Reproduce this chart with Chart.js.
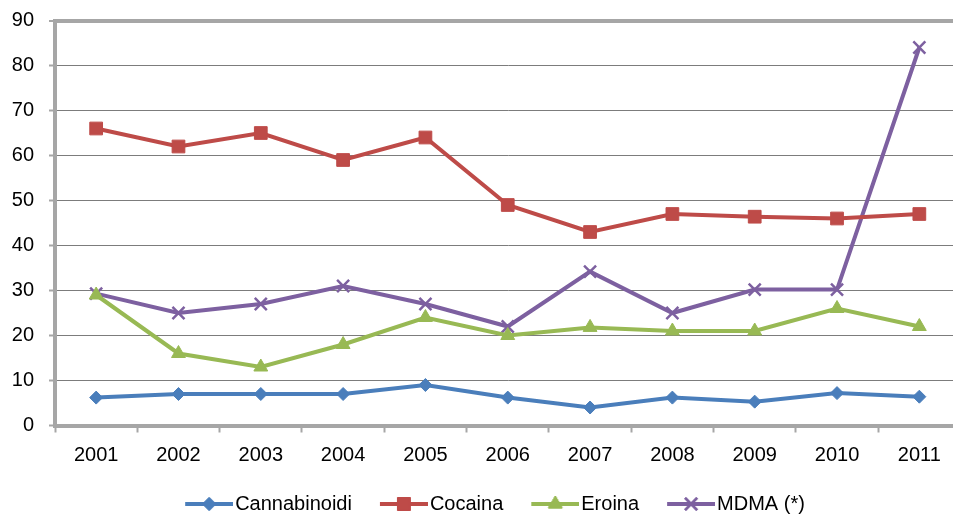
<!DOCTYPE html>
<html>
<head>
<meta charset="utf-8">
<script src="https://cdn.jsdelivr.net/npm/chart.js@4/dist/chart.umd.min.js"></script>
<style>
  html, body { margin: 0; padding: 0; background: #fff; overflow: hidden; }
  #wrap { width: 953px; height: 518px; overflow: hidden; position: relative; }
  canvas { display: block; }
</style>
</head>
<body>
<div id="wrap"><canvas id="c" width="990" height="524" style="width:990px;height:524px"></canvas></div>
<script>
// Years on the category axis
const years = ['2001', '2002', '2003', '2004', '2005', '2006', '2007', '2008', '2009', '2010', '2011'];

// Series values
const cannabinoidi = [6.2, 7.0, 7.0, 7.0, 9.0, 6.2, 4.0, 6.2, 5.3, 7.2, 6.4];
const cocaina      = [66, 62, 65, 59, 64, 49, 43, 47, 46.4, 46, 47];
const eroina       = [29, 16, 13, 18, 24, 20, 21.8, 21, 21, 26, 22];
const mdma         = [29.3, 25, 27, 31, 27, 22, 34.2, 25, 30.2, 30.2, 84];

// Y axis ticks
const yTicks = [0, 10, 20, 30, 40, 50, 60, 70, 80, 90];

const FONT = '"Liberation Sans", Arial, sans-serif';

const series = [
  { label: 'Cannabinoidi', data: cannabinoidi, color: '#4a7ebb', pointStyle: 'rectRot', radius: 6.5, pw: 1 },
  { label: 'Cocaina',      data: cocaina,      color: '#be4b48', pointStyle: 'rect',    radius: 9,   pw: 1 },
  { label: 'Eroina',       data: eroina,       color: '#98b954', pointStyle: 'triangle',radius: 8,   pw: 1 },
  { label: 'MDMA (*)',     data: mdma,         color: '#7d60a0', pointStyle: 'crossRot',radius: 8.5, pw: 2.5 }
];

// Legend swatch: a short line with the series marker in its middle
function legendSwatch(s) {
  const c = document.createElement('canvas');
  c.width = 76; c.height = 20;
  const g = c.getContext('2d');
  g.strokeStyle = s.color;
  g.lineWidth = 4;
  g.beginPath(); g.moveTo(28, 10); g.lineTo(76, 10); g.stroke();
  g.fillStyle = s.color;
  g.strokeStyle = s.color;
  g.lineWidth = s.pw;
  Chart.helpers.drawPoint(g, { pointStyle: s.pointStyle, radius: s.radius, rotation: 0, borderWidth: s.pw }, 52, 10);
  if (s.pointStyle !== 'crossRot') g.fill();
  g.stroke();
  return c;
}
const swatches = series.map(legendSwatch);

new Chart(document.getElementById('c'), {
  type: 'line',
  data: {
    labels: years,
    datasets: series.map(s => ({
      label: s.label,
      data: s.data,
      borderColor: s.color,
      backgroundColor: s.color,
      borderWidth: 4,
      tension: 0,
      pointStyle: s.pointStyle,
      pointRadius: s.radius,
      pointHoverRadius: s.radius,
      pointBorderWidth: s.pw,
      pointBackgroundColor: s.color,
      pointBorderColor: s.color,
      yAxisID: 'y'
    }))
  },
  options: {
    responsive: false,
    animation: false,
    devicePixelRatio: 1,
    layout: { padding: { top: 20.5, left: 0, right: 20, bottom: 0 } },
    plugins: {
      tooltip: { enabled: false },
      legend: {
        position: 'bottom',
        labels: {
          usePointStyle: true,
          pointStyleWidth: 60,
          padding: 8,
          color: '#000',
          font: { family: FONT, size: 20 },
          generateLabels(chart) {
            const items = Chart.defaults.plugins.legend.labels.generateLabels(chart);
            items.forEach((it, i) => { it.pointStyle = swatches[i]; });
            return items;
          }
        }
      }
    },
    scales: {
      x: {
        type: 'category',
        offset: true,
        grid: {
          offset: true,
          drawOnChartArea: false,
          drawTicks: true,
          tickLength: 7,
          tickWidth: 2,
          tickColor: '#a6a6a6'
        },
        border: { display: true, color: '#a6a6a6', width: 4 },
        ticks: {
          color: '#000',
          padding: 11,
          maxRotation: 0,
          autoSkip: false,
          font: { family: FONT, size: 20 }
        },
        afterFit(scale) { scale.height = 60.5; scale.paddingLeft = 0; scale.paddingRight = 0; }
      },
      y: {
        position: 'left',
        min: 0,
        max: 90,
        afterBuildTicks(scale) { scale.ticks = yTicks.map(v => ({ value: v })); },
        grid: {
          color: ctx => (ctx.tick && ctx.tick.value === 90 ? '#a6a6a6' : '#7c7c7c'),
          lineWidth: ctx => (ctx.tick && ctx.tick.value === 90 ? 4 : 1),
          drawTicks: true,
          tickLength: 6,
          tickWidth: 2,
          tickColor: '#a6a6a6'
        },
        border: { display: true, color: '#a6a6a6', width: 4 },
        ticks: {
          color: '#000',
          padding: 15,
          font: { family: FONT, size: 20 }
        },
        afterFit(scale) { scale.width = 55; scale.paddingTop = 0; scale.paddingBottom = 0; }
      },
      yRight: {
        position: 'right',
        display: true,
        grid: { display: false, drawTicks: false },
        border: { display: false },
        ticks: { display: false },
        afterFit(scale) { scale.width = 9.5; scale.paddingTop = 0; scale.paddingBottom = 0; }
      }
    }
  }
});
</script>
</body>
</html>
